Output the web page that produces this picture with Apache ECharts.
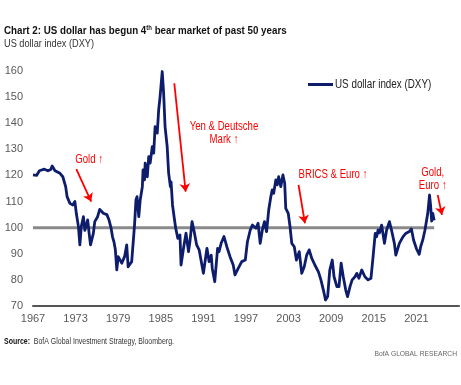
<!DOCTYPE html>
<html><head><meta charset="utf-8">
<script src="https://cdn.jsdelivr.net/npm/echarts@6/dist/echarts.min.js"></script>
<style>html,body{margin:0;padding:0;background:#fff}#c{width:461px;height:385px}</style>
</head><body><div id="c"></div>
<script>
// US dollar index (DXY)
const years = [
  1967.0,1967.5,1967.9,1968.6,1969.1,1969.5,1969.7,1970.1,1970.8,1971.2,
  1971.6,1971.8,1972.2,1972.6,1972.9,1973.1,1973.4,1973.6,1973.8,1974.1,
  1974.3,1974.7,1974.9,1975.1,1975.5,1975.7,1976.1,1976.4,1976.9,1977.4,
  1977.7,1978.0,1978.2,1978.4,1978.6,1978.8,1979.0,1979.2,1979.5,1979.9,
  1980.2,1980.4,1980.6,1980.9,1981.1,1981.3,1981.5,1981.65,1981.9,1982.1,
  1982.4,1982.5,1982.7,1982.8,1983.1,1983.3,1983.5,1983.8,1984.0,1984.2,
  1984.5,1984.7,1984.9,1985.2,1985.4,1985.6,1985.9,1986.1,1986.35,1986.45,
  1986.65,1986.9,1987.1,1987.4,1987.7,1987.85,1988.2,1988.55,1988.9,1989.1,
  1989.4,1989.7,1990.05,1990.4,1990.7,1991.0,1991.5,1991.8,1992.1,1992.25,
  1992.6,1993.0,1993.2,1993.5,1993.9,1994.3,1994.75,1995.2,1995.45,1995.9,
  1996.4,1996.9,1997.2,1997.6,1997.9,1998.4,1998.7,1999.0,1999.3,1999.6,
  1999.9,2000.2,2000.5,2000.7,2000.9,2001.2,2001.4,2001.6,2001.9,2002.2,
  2002.45,2002.6,2002.95,2003.2,2003.45,2003.8,2004.1,2004.5,2004.85,2005.2,
  2005.55,2005.9,2006.25,2006.7,2007.2,2007.55,2007.9,2008.2,2008.5,2008.8,
  2009.15,2009.4,2009.8,2010.1,2010.4,2010.7,2011.05,2011.3,2011.65,2011.95,
  2012.35,2012.6,2012.9,2013.3,2013.75,2014.2,2014.6,2014.9,2015.2,2015.4,
  2015.6,2015.8,2016.1,2016.5,2016.8,2017.2,2017.5,2017.9,2018.1,2018.6,
  2019.1,2019.5,2020.0,2020.3,2020.6,2021.0,2021.4,2021.6,2021.9,2022.2,
  2022.6,2022.85,2023.0,2023.15,2023.3,2023.5
];
const dxy = [
  120.2,120.0,121.8,122.4,121.8,122.3,123.6,121.8,120.8,119.5,
  115.7,111.9,109.3,108.7,110.0,105.5,100.4,93.4,100.4,104.2,
  99.0,103.0,98.0,93.4,97.8,102.3,104.2,107.0,105.5,105.0,
  103.0,99.8,96.5,94.6,91.5,83.8,88.9,89.3,86.4,88.9,
  93.4,85.0,85.5,87.0,94.0,101.0,110.6,111.9,104.2,110.6,
  115.7,122.1,118.3,124.7,119.5,127.2,124.7,131.0,128.5,138.7,
  136.2,145.1,150.2,159.8,151.5,138.7,131.0,121.0,115.7,117.5,
  108.7,103.6,99.8,95.9,97.2,85.7,92.1,97.9,90.8,94.6,
  102.3,98.5,93.4,91.5,87.0,82.5,92.1,87.0,89.5,84.4,
  79.3,92.1,90.8,94.0,96.6,92.7,88.9,85.7,81.9,84.4,
  87.0,87.6,94.6,99.1,101.0,99.8,101.7,94.0,99.1,102.3,
  98.5,106.8,111.9,114.5,113.2,118.3,116.4,119.5,115.7,120.2,
  117.0,107.4,105.5,100.4,94.0,92.7,87.6,90.8,82.5,85.0,
  89.5,91.5,88.3,85.7,83.1,80.0,76.1,72.3,73.6,83.8,
  87.6,81.2,77.4,77.4,86.4,81.2,76.1,73.6,77.4,80.0,
  81.2,82.5,80.6,83.8,81.2,80.0,80.6,88.9,97.8,96.5,
  99.1,98.0,101.0,94.0,99.0,102.3,99.0,94.0,89.5,94.0,
  96.5,97.8,98.5,99.5,95.3,92.0,89.8,92.7,95.3,99.0,
  105.5,112.5,108.5,102.5,105.5,102.8
];
const baseline = 100;
const seriesName = 'US dollar index (DXY)';

// annotations (data coordinates)
const noteTexts = ['Gold ↑', 'Yen & Deutsche\nMark ↑', 'BRICS & Euro ↑', 'Gold,\nEuro ↑'];
const notePos = [[1974.9, 125.9], [1993.9, 136.0], [2009.25, 120.2], [2023.3, 118.5]];
const arrowFrom = [[1973.1, 122.4], [1986.9, 155.3], [2004.4, 116.4], [2024.0, 112.5]];
const arrowTo = [[1975.2, 110.0], [1988.5, 113.8], [2005.3, 101.7], [2024.6, 104.9]];

const FONT = "'Liberation Sans', Arial, sans-serif";
const RED = '#ff0000';
const NAVY = '#0d1d6c';

const chart = echarts.init(document.getElementById('c'));
chart.setOption({
  animation: false,
  backgroundColor: '#fff',
  textStyle: { fontFamily: FONT },
  graphic: [
    { type: 'text', x: 4, y: 31, scaleX: 0.85, silent: true,
      style: { text: '{b|Chart 2: US dollar has begun 4}{sup|th}{b| bear market of past 50 years}',
        verticalAlign: 'middle', align: 'left',
        rich: {
          b: { fontFamily: FONT, fontWeight: 'bold', fontSize: 11.5, fill: '#111' },
          sup: { fontFamily: FONT, fontWeight: 'bold', fontSize: 7, fill: '#111', verticalAlign: 'top' }
        } } },
    { type: 'text', x: 4, y: 44, scaleX: 0.8, silent: true,
      style: { text: 'US dollar index (DXY)', fontFamily: FONT, fontSize: 11.5, fill: '#333', verticalAlign: 'middle', align: 'left' } },
    { type: 'text', x: 4, y: 342, scaleX: 0.82, silent: true,
      style: { text: '{b|Source:}{r|  BofA Global Investment Strategy, Bloomberg.}', verticalAlign: 'middle', align: 'left',
        rich: {
          b: { fontFamily: FONT, fontWeight: 'bold', fontSize: 8.5, fill: '#111' },
          r: { fontFamily: FONT, fontSize: 8.5, fill: '#333' }
        } } },
    { type: 'text', x: 457, y: 354, scaleX: 0.84, silent: true,
      style: { text: 'BofA GLOBAL RESEARCH', fontFamily: FONT, fontSize: 8, fill: '#666', verticalAlign: 'middle', align: 'right' } },
    // legend
    { type: 'line', silent: true, shape: { x1: 308, y1: 84.5, x2: 333, y2: 84.5 }, style: { stroke: NAVY, lineWidth: 3 } },
    { type: 'text', x: 335, y: 84.5, scaleX: 0.82, silent: true,
      style: { text: seriesName, fontFamily: FONT, fontSize: 12, fill: '#222', verticalAlign: 'middle', align: 'left' } }
  ],
  grid: { left: 33, right: 2, top: 71, bottom: 79 },
  xAxis: {
    type: 'value', min: 1967, max: 2027, interval: 6,
    splitLine: { show: false }, axisTick: { show: false },
    axisLine: { lineStyle: { color: '#555', width: 2 } },
    axisLabel: { showMaxLabel: false, color: '#595959', fontSize: 11, margin: 7, fontFamily: FONT,
      formatter: v => String(v) }
  },
  yAxis: {
    type: 'value', min: 70, max: 160, interval: 10,
    splitLine: { show: false }, axisTick: { show: false }, axisLine: { show: false },
    axisLabel: { color: '#595959', fontSize: 11, margin: 10, fontFamily: FONT }
  },
  series: [
    { name: 'base', type: 'line', symbol: 'none', silent: true, z: 1,
      data: [[years[0], baseline], [years[years.length - 1], baseline]],
      lineStyle: { color: '#8a8a8a', width: 3 } },
    { name: seriesName, type: 'line', symbol: 'none', z: 3,
      data: years.map((y, i) => [y, dxy[i]]),
      lineStyle: { color: NAVY, width: 2.8, join: 'round' }, itemStyle: { color: NAVY } },
    { name: 'arrows', type: 'lines', coordinateSystem: 'cartesian2d', z: 4,
      symbol: ['none', 'arrow'], symbolSize: 8,
      lineStyle: { color: RED, width: 1.8, opacity: 1 },
      data: arrowFrom.map((p, i) => ({ coords: [p, arrowTo[i]] })) },
    { name: 'notes', type: 'custom', z: 5, silent: true,
      data: notePos,
      renderItem: (params, api) => {
        const p = api.coord([api.value(0), api.value(1)]);
        return { type: 'text', x: p[0], y: p[1], scaleX: 0.8,
          style: { text: noteTexts[params.dataIndex], fill: RED, fontFamily: FONT, fontSize: 12,
            lineHeight: 13, align: 'center', verticalAlign: 'middle' } };
      } }
  ]
});
</script></body></html>
